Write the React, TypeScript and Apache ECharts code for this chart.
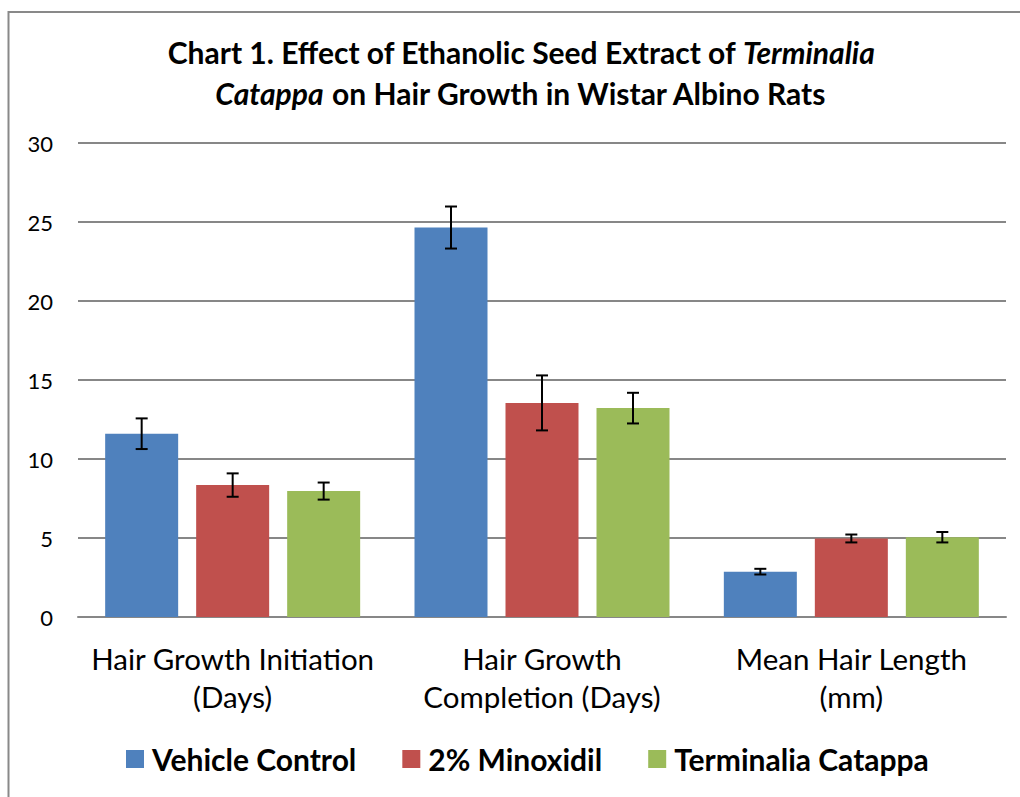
import React, { useEffect, useRef } from "react";
import * as echarts from "echarts";

const categories = [
  "Hair Growth Initiation\n(Days)",
  "Hair Growth\nCompletion (Days)",
  "Mean Hair Length\n(mm)",
];
const seriesNames = ["Vehicle Control", "2% Minoxidil", "Terminalia Catappa"];
const vehicleValues = [11.6, 24.65, 2.87];
const vehicleErrors = [0.97, 1.33, 0.18];
const minoxidilValues = [8.35, 13.55, 4.97];
const minoxidilErrors = [0.74, 1.74, 0.25];
const catappaValues = [7.97, 13.22, 5.05];
const catappaErrors = [0.54, 0.97, 0.33];
const yTicks = { min: 0, max: 30, interval: 5 };

const colors = ["#4F81BD", "#C0504D", "#9BBB59"];
const FONT = "Lato, 'Open Sans', sans-serif";
const BAR_W = 73;
const BAR_GAP = 18;

export default function App() {
  const ref = useRef<HTMLDivElement>(null);
  useEffect(() => {
    if (!ref.current) return;
    const chart = echarts.init(ref.current, null, { renderer: "svg" });
    const values = [vehicleValues, minoxidilValues, catappaValues];
    const errors = [vehicleErrors, minoxidilErrors, catappaErrors];

    const barSeries = seriesNames.map((name, s) => ({
      name,
      type: "bar",
      data: values[s],
      barWidth: BAR_W,
      barGap: `${(BAR_GAP / BAR_W) * 100}%`,
      itemStyle: { color: colors[s] },
    }));

    const errSeries = seriesNames.map((name, s) => ({
      name: name + " error",
      type: "custom",
      z: 10,
      encode: { x: 0, y: 1 },
      data: values[s].map((v, i) => [i, v, errors[s][i]]),
      renderItem: (params: any, api: any) => {
        const i = api.value(0);
        const v = api.value(1);
        const e = api.value(2);
        const offset = (s - 1) * (BAR_W + BAR_GAP);
        const top = api.coord([i, v + e]);
        const bot = api.coord([i, v - e]);
        const x = top[0] + offset;
        const cap = 6;
        const style = { stroke: "#000", lineWidth: 2 };
        return {
          type: "group",
          children: [
            { type: "line", shape: { x1: x, y1: top[1], x2: x, y2: bot[1] }, style },
            { type: "line", shape: { x1: x - cap, y1: top[1], x2: x + cap, y2: top[1] }, style },
            { type: "line", shape: { x1: x - cap, y1: bot[1], x2: x + cap, y2: bot[1] }, style },
          ],
        };
      },
    }));

    chart.setOption({
      animation: false,
      backgroundColor: "#fff",
      title: {
        text:
          "{a|Chart 1. Effect of Ethanolic Seed Extract of }{i|Terminalia}\n{i|Catappa}{a| on Hair Growth in Wistar Albino Rats}",
        left: 516,
        top: 26,
        textAlign: "center",
        textStyle: {
          rich: {
            a: { fontFamily: FONT, fontWeight: "bold", fontSize: 30, color: "#000", lineHeight: 41 },
            i: { fontFamily: FONT, fontWeight: "bold", fontStyle: "italic", fontSize: 30, color: "#000", lineHeight: 41 },
          },
        },
      },
      legend: {
        data: seriesNames,
        top: 739,
        left: 121,
        icon: "rect",
        itemWidth: 18,
        itemHeight: 18,
        itemGap: 46,
        textStyle: {
          fontFamily: FONT,
          fontWeight: "bold",
          fontSize: 30,
          lineHeight: 30,
          color: "#000",
          padding: [0, 0, 0, 3],
        },
      },
      grid: { left: 78, right: 14, top: 143, bottom: 180, containLabel: false },
      xAxis: {
        type: "category",
        data: categories,
        axisLine: { lineStyle: { color: "#878787", width: 2 } },
        axisTick: { show: false },
        axisLabel: {
          fontFamily: FONT,
          fontSize: 29.5,
          lineHeight: 38,
          color: "#000",
          margin: 22,
          interval: 0,
        },
      },
      yAxis: {
        type: "value",
        min: yTicks.min,
        max: yTicks.max,
        interval: yTicks.interval,
        axisLine: { show: false },
        axisTick: { show: false },
        axisLabel: { fontFamily: FONT, fontSize: 22, color: "#000", margin: 25 },
        splitLine: { lineStyle: { color: "#878787", width: 2 } },
      },
      graphic: [
        {
          type: "rect",
          shape: { x: 8.5, y: 12, width: 1100, height: 900 },
          style: { fill: "none", stroke: "#898989", lineWidth: 2 },
          silent: true,
        },
      ],
      series: [...barSeries, ...errSeries],
    });
    return () => chart.dispose();
  }, []);
  return (
    <div
      ref={ref}
      style={{ position: "fixed", left: 0, top: 0, width: 1020, height: 797 }}
    />
  );
}
